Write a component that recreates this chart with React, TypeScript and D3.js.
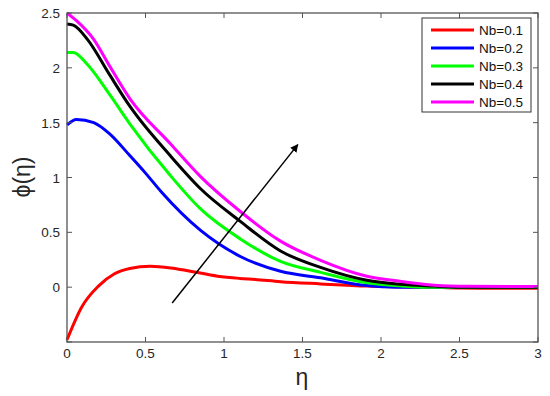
import React, { useRef, useEffect } from "react";
import * as d3 from "d3";

const xs01 = [0, 0.094, 0.2, 0.3, 0.4, 0.53, 0.66, 0.77, 0.96, 1.1, 1.2, 1.36, 1.615, 1.91, 2.1, 2.3, 2.5, 2.7, 3];
const nb01 = [-0.48, -0.18, 0.01, 0.12, 0.17, 0.19, 0.175, 0.15, 0.1, 0.08, 0.07, 0.05, 0.03, 0.01, 0.004, 0, -0.008, -0.01, -0.01];

const xs02 = [0, 0.06, 0.17, 0.27, 0.4, 0.5, 0.6, 0.849, 1.104, 1.36, 1.615, 1.91, 2.1, 2.5, 3];
const nb02 = [1.48, 1.53, 1.5, 1.4, 1.2, 1.04, 0.87, 0.52, 0.28, 0.145, 0.085, 0.015, 0, 0, 0];

const xs03 = [0, 0.04, 0.13, 0.27, 0.4, 0.657, 0.849, 1.104, 1.36, 1.615, 1.91, 2.12, 2.3, 3];
const nb03 = [2.14, 2.14, 2.03, 1.76, 1.49, 1.02, 0.716, 0.44, 0.235, 0.135, 0.04, 0.012, 0, 0];

const xs04 = [0, 0.04, 0.13, 0.27, 0.4, 0.657, 0.849, 1.104, 1.36, 1.615, 1.91, 2.12, 2.34, 2.5, 3];
const nb04 = [2.4, 2.39, 2.26, 1.94, 1.65, 1.2, 0.9, 0.6, 0.33, 0.18, 0.063, 0.027, 0.01, 0, 0];

const xs05 = [0, 0.06, 0.17, 0.27, 0.4, 0.657, 0.849, 1.104, 1.36, 1.615, 1.91, 2.12, 2.34, 2.55, 3];
const nb05 = [2.5, 2.43, 2.26, 2.02, 1.72, 1.31, 1.01, 0.69, 0.42, 0.245, 0.1, 0.054, 0.018, 0.008, 0.005];

const seriesNames = ["Nb=0.1", "Nb=0.2", "Nb=0.3", "Nb=0.4", "Nb=0.5"];
const seriesColors = ["#ff0000", "#0000ff", "#00ff00", "#000000", "#ff00ff"];
const seriesX = [xs01, xs02, xs03, xs04, xs05];
const seriesY = [nb01, nb02, nb03, nb04, nb05];

const xTicks = [0, 0.5, 1, 1.5, 2, 2.5, 3];
const yTicks = [-0.5, 0, 0.5, 1, 1.5, 2, 2.5];
const yLabels = ["", "0", "0.5", "1", "1.5", "2", "2.5"];

// arrow from / to, in data units
const arrowFrom = [0.67, -0.145];
const arrowTo = [1.47, 1.3];

const App = () => {
  const ref = useRef(null);

  useEffect(() => {
    const width = 550;
    const height = 396;
    const margin = { top: 13, right: 12, bottom: 54, left: 67 };
    const w = width - margin.left - margin.right;
    const h = height - margin.top - margin.bottom;

    d3.select(ref.current).selectAll("*").remove();

    const svg = d3.select(ref.current)
      .attr("width", width)
      .attr("height", height)
      .style("font-family", "Liberation Sans, Arial, sans-serif");

    svg.append("rect").attr("width", width).attr("height", height).attr("fill", "#fff");

    const defs = svg.append("defs");
    defs.append("marker")
      .attr("id", "arrowhead")
      .attr("viewBox", "0 0 10 10")
      .attr("refX", 9)
      .attr("refY", 5)
      .attr("markerWidth", 8)
      .attr("markerHeight", 8)
      .attr("markerUnits", "userSpaceOnUse")
      .attr("orient", "auto")
      .append("path")
      .attr("d", "M0,0 L10,5 L0,10 z")
      .attr("fill", "#000");

    const g = svg.append("g").attr("transform", `translate(${margin.left},${margin.top})`);

    const x = d3.scaleLinear().domain([0, 3]).range([0, w]);
    const y = d3.scaleLinear().domain([-0.5, 2.5]).range([h, 0]);

    // curves
    const line = d3.line<[number, number]>()
      .x(d => x(d[0]))
      .y(d => y(d[1]))
      .curve(d3.curveMonotoneX);

    seriesX.forEach((xv, i) => {
      const pts = xv.map((v, j) => [v, seriesY[i][j]] as [number, number]);
      g.append("path")
        .datum(pts)
        .attr("fill", "none")
        .attr("stroke", seriesColors[i])
        .attr("stroke-width", 3)
        .attr("stroke-linejoin", "round")
        .attr("d", line);
    });

    // arrow
    g.append("line")
      .attr("x1", x(arrowFrom[0]))
      .attr("y1", y(arrowFrom[1]))
      .attr("x2", x(arrowTo[0]))
      .attr("y2", y(arrowTo[1]))
      .attr("stroke", "#000")
      .attr("stroke-width", 1.5)
      .attr("marker-end", "url(#arrowhead)");

    // frame
    const axisColor = "#555";
    g.append("rect")
      .attr("width", w)
      .attr("height", h)
      .attr("fill", "none")
      .attr("stroke", axisColor)
      .attr("stroke-width", 1.3);

    const tl = 5;
    xTicks.forEach(t => {
      g.append("line").attr("x1", x(t)).attr("x2", x(t)).attr("y1", h).attr("y2", h - tl).attr("stroke", axisColor);
      g.append("line").attr("x1", x(t)).attr("x2", x(t)).attr("y1", 0).attr("y2", tl).attr("stroke", axisColor);
      g.append("text")
        .attr("x", x(t))
        .attr("y", h + 16)
        .attr("text-anchor", "middle")
        .attr("font-size", 13.5)
        .attr("fill", "#262626")
        .text(String(t));
    });

    yTicks.forEach((t, i) => {
      g.append("line").attr("x1", 0).attr("x2", tl).attr("y1", y(t)).attr("y2", y(t)).attr("stroke", axisColor);
      g.append("line").attr("x1", w).attr("x2", w - tl).attr("y1", y(t)).attr("y2", y(t)).attr("stroke", axisColor);
      g.append("text")
        .attr("x", -7)
        .attr("y", y(t) + 5)
        .attr("text-anchor", "end")
        .attr("font-size", 13.5)
        .attr("fill", "#262626")
        .text(yLabels[i]);
    });

    // axis labels
    svg.append("text")
      .attr("x", 302)
      .attr("y", 385)
      .attr("text-anchor", "middle")
      .attr("font-size", 23)
      .attr("fill", "#262626")
      .text("η");

    svg.append("text")
      .attr("transform", `translate(30,177) rotate(-90)`)
      .attr("text-anchor", "middle")
      .attr("font-size", 23)
      .attr("fill", "#262626")
      .text("ϕ(η)");

    // legend
    const lg = svg.append("g").attr("transform", "translate(422,18)");
    lg.append("rect")
      .attr("width", 109)
      .attr("height", 94)
      .attr("fill", "#fff")
      .attr("stroke", "#333")
      .attr("stroke-width", 1);
    seriesNames.forEach((name, i) => {
      const yy = 12 + i * 18;
      lg.append("line")
        .attr("x1", 9).attr("x2", 52)
        .attr("y1", yy).attr("y2", yy)
        .attr("stroke", seriesColors[i])
        .attr("stroke-width", 3);
      lg.append("text")
        .attr("x", 57)
        .attr("y", yy + 5)
        .attr("font-size", 13.5)
        .attr("fill", "#111")
        .text(name);
    });
  }, []);

  return <svg ref={ref} style={{ position: "absolute", left: 0, top: 0 }} />;
};

export default App;
